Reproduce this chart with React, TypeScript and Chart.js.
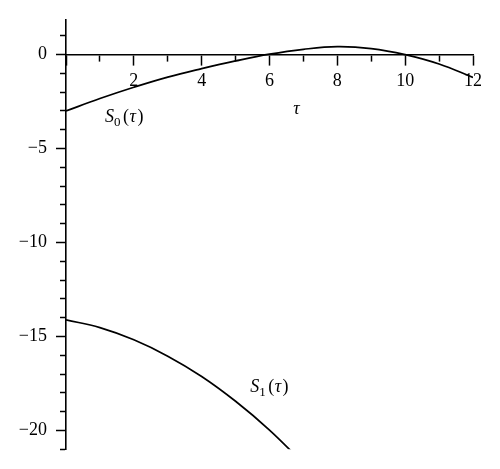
import { useEffect, useRef } from "react";
import { Chart, registerables } from "chart.js";

Chart.register(...registerables);

// ---- data ----
const tauS0 = [0, 1, 2, 3, 4, 5, 6, 7, 8, 9, 10, 11, 12];
const valuesS0 = [-3.0, -2.34, -1.74, -1.2, -0.75, -0.34, 0.02, 0.28, 0.42, 0.32, 0.0, -0.5, -1.22];
const tauS1 = [0, 1, 2, 3, 4, 5, 6, 7];
const valuesS1 = [-14.12, -14.53, -15.18, -16.05, -17.13, -18.45, -19.98, -21.75];

const xTickValues = [0, 1, 2, 3, 4, 5, 6, 7, 8, 9, 10, 11, 12];
const xTickLabels = ["", "", "2", "", "4", "", "6", "", "8", "", "10", "", "12"];
const yTickValues = [1, 0, -1, -2, -3, -4, -5, -6, -7, -8, -9, -10, -11, -12, -13, -14, -15, -16, -17, -18, -19, -20, -21];
const yMajorValues = [0, -5, -10, -15, -20];
const yMajorLabels = ["0", "\u22125", "\u221210", "\u221215", "\u221220"];

const curveLabels = [
  { t: 1.15, v: -3.6, sub: "0" },
  { t: 5.43, v: -17.97, sub: "1" },
];
const axisTitle = { t: 6.7, v: -3.18, text: "\u03c4" };

const FONT = '"Liberation Serif", "Times New Roman", serif';

export default function App() {
  const ref = useRef<HTMLCanvasElement | null>(null);

  useEffect(() => {
    const canvas = ref.current;
    if (!canvas) return;

    const textPlugin = {
      id: "mathText",
      afterDraw(chart: any) {
        const ctx = chart.ctx as CanvasRenderingContext2D;
        const xs = chart.scales.x;
        const ys = chart.scales.y;
        ctx.save();
        ctx.fillStyle = "#000";
        ctx.textBaseline = "alphabetic";
        ctx.textAlign = "left";
        for (const lab of curveLabels) {
          let x = xs.getPixelForValue(lab.t);
          const y = ys.getPixelForValue(lab.v);
          ctx.font = `italic 18px ${FONT}`;
          ctx.fillText("S", x, y);
          x += ctx.measureText("S").width;
          ctx.font = `13px ${FONT}`;
          ctx.fillText(lab.sub, x, y + 4);
          x += ctx.measureText(lab.sub).width + 2.5;
          ctx.font = `18px ${FONT}`;
          ctx.fillText("(", x, y);
          x += ctx.measureText("(").width + 0.5;
          ctx.font = `italic 18px ${FONT}`;
          ctx.fillText("\u03c4", x, y);
          x += ctx.measureText("\u03c4").width + 1.5;
          ctx.font = `18px ${FONT}`;
          ctx.fillText(")", x, y);
        }
        ctx.font = `italic 18px ${FONT}`;
        ctx.fillText(axisTitle.text, xs.getPixelForValue(axisTitle.t), ys.getPixelForValue(axisTitle.v));
        ctx.restore();
      },
    };

    const chart = new Chart(canvas, {
      type: "line",
      data: {
        datasets: [
          {
            data: tauS0.map((t, i) => ({ x: t, y: valuesS0[i] })),
            borderColor: "#000",
            borderWidth: 1.7,
            pointRadius: 0,
            tension: 0.4,
            fill: false,
            clip: 0,
          },
          {
            data: tauS1.map((t, i) => ({ x: t, y: valuesS1[i] })),
            borderColor: "#000",
            borderWidth: 1.7,
            pointRadius: 0,
            tension: 0.4,
            fill: false,
            clip: 0,
          },
        ],
      },
      options: {
        animation: false,
        responsive: true,
        maintainAspectRatio: false,
        layout: { padding: { left: 0, top: 17, right: 27, bottom: 18 } },
        plugins: { legend: { display: false }, tooltip: { enabled: false } },
        scales: {
          x: {
            type: "linear",
            min: 0,
            max: 12,
            position: { y: 0 } as any,
            afterBuildTicks: (axis: any) => {
              axis.ticks = xTickValues.map((v) => ({ value: v }));
            },
            border: { color: "#000", width: 1.6 },
            grid: {
              drawOnChartArea: false,
              drawTicks: true,
              tickLength: 10,
              tickColor: "#000",
              tickWidth: 1.5,
              tickBorderDash: (c: any) => (c.tick && c.tick.value % 2 !== 0 ? [6, 100] : []),
            },
            ticks: {
              color: "#000",
              padding: 6,
              autoSkip: false,
              maxRotation: 0,
              font: { family: FONT, size: 18 },
              callback: (v: any) => {
                const i = xTickValues.indexOf(Number(v));
                return i >= 0 ? xTickLabels[i] : "";
              },
            },
          },
          y: {
            type: "linear",
            min: -21,
            max: 1.85,
            position: "left",
            afterFit: (scale: any) => {
              scale.width = 66;
            },
            afterBuildTicks: (axis: any) => {
              axis.ticks = yTickValues.map((v) => ({ value: v }));
            },
            border: { color: "#000", width: 1.6 },
            grid: {
              drawOnChartArea: false,
              drawTicks: true,
              tickLength: 10,
              tickColor: "#000",
              tickWidth: 1.5,
              tickBorderDash: (c: any) =>
                c.tick && yMajorValues.indexOf(c.tick.value) < 0 ? [6, 4] : [],
              tickBorderDashOffset: (c: any) =>
                c.tick && yMajorValues.indexOf(c.tick.value) < 0 ? 6 : 0,
            },
            ticks: {
              color: "#000",
              padding: 9,
              autoSkip: false,
              font: { family: FONT, size: 18 },
              callback: (v: any) => {
                const i = yMajorValues.indexOf(Number(v));
                return i >= 0 ? yMajorLabels[i] : "";
              },
            },
          },
        },
      },
      plugins: [textPlugin],
    });

    return () => chart.destroy();
  }, []);

  return (
    <div style={{ position: "absolute", left: 0, top: 0, width: 500, height: 469, background: "#fff" }}>
      <canvas ref={ref} />
    </div>
  );
}
